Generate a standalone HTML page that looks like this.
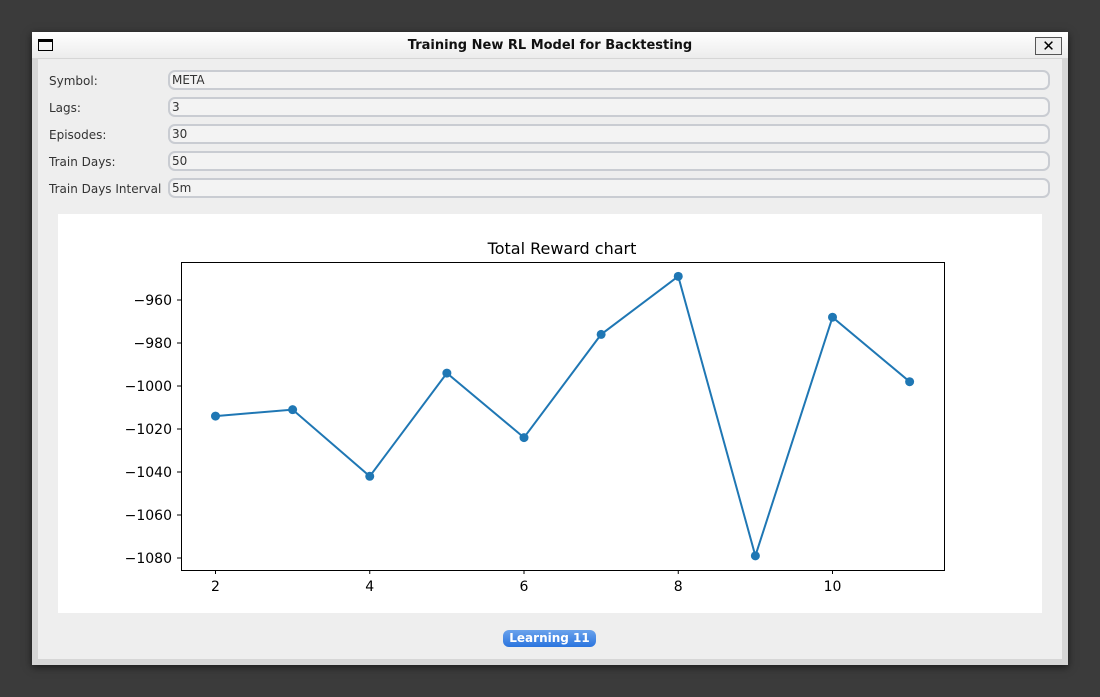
<!DOCTYPE html>
<html><head><meta charset="utf-8"><style>
body{margin:0;width:1100px;height:697px;background:#3b3b3b;font-family:"DejaVu Sans","Liberation Sans",sans-serif;overflow:hidden;position:relative}
.win{position:absolute;left:32px;top:32px;width:1036px;height:633px;background:#d6d6d6;box-shadow:0 2px 8px rgba(0,0,0,.6)}
.tb{position:absolute;left:0;top:0;width:1036px;height:26px;background:linear-gradient(#fff,#ececec)}
.tt{position:absolute;left:0;right:0;top:6px;text-align:center;font-weight:bold;font-size:13px;color:#111}
.body{position:absolute;left:6px;top:27px;width:1024px;height:600px;background:#eeeeee}
.lbl{position:absolute;left:11px;font-size:12px;color:#333}
.fld{position:absolute;left:130px;width:876px;height:16px;border:2px solid #c9ccd2;border-radius:7px;background:#f3f3f3;font-size:12px;color:#333;line-height:16px;padding-left:2px}
.btn{position:absolute;left:503px;top:630px;width:93px;height:17px;border-radius:6px;background:linear-gradient(#6aa2ec,#2a74de);color:#fff;font-weight:bold;font-size:12px;text-align:center;line-height:17px}
</style></head><body>
<div class="win">
 <div class="tb">
  <div style="position:absolute;left:6px;top:7px;width:15px;height:12px;border:1px solid #000;border-top-width:3px;box-sizing:border-box"></div>
  <div class="tt">Training New RL Model for Backtesting</div>
  <div style="position:absolute;left:1003px;top:5px;width:27px;height:18px;border:1px solid #555;background:#eee;box-sizing:border-box;text-align:center;font-size:15px;line-height:16px;font-weight:900">✕</div>
 </div>
 <div class="body">
  <div class="lbl" style="top:15px">Symbol:</div>
  <div class="fld" style="top:11px">META</div>
  <div class="lbl" style="top:42px">Lags:</div>
  <div class="fld" style="top:38px">3</div>
  <div class="lbl" style="top:69px">Episodes:</div>
  <div class="fld" style="top:65px">30</div>
  <div class="lbl" style="top:96px">Train Days:</div>
  <div class="fld" style="top:92px">50</div>
  <div class="lbl" style="top:123px">Train Days Interval</div>
  <div class="fld" style="top:119px">5m</div>
 </div>
</div>
<svg id="chart" style="position:absolute;left:0;top:0" width="1100" height="697">
 <rect x="58" y="214" width="984" height="399" fill="#fff"/>
 <text x="562" y="254" text-anchor="middle" font-size="16" font-family="DejaVu Sans,sans-serif" fill="#000">Total Reward chart</text>
 <rect x="181.5" y="262.5" width="763" height="308" fill="none" stroke="#000" stroke-width="1"/>
 <g id="g"></g>
</svg>
<div class="btn">Learning 11</div>
<script>
const episodes=[2,3,4,5,6,7,8,9,10,11];
const rewards=[-1014,-1011,-1042,-994,-1024,-976,-949,-1079,-968,-998];
const xTicks=[2,4,6,8,10];
const yTicks=[-960,-980,-1000,-1020,-1040,-1060,-1080];
const xs=v=>215.5+(v-2)*77.125;
const ys=v=>300+(-960-v)*2.15;
const g=document.getElementById('g');const NS='http://www.w3.org/2000/svg';
function mk(t,a){const e=document.createElementNS(NS,t);for(const k in a)e.setAttribute(k,a[k]);g.appendChild(e);return e;}
xTicks.forEach(v=>{const x=xs(v);
 const l=mk('line',{x1:x,x2:x,y1:570,y2:574,stroke:'#000'});
 
 
 const t=mk('text',{x:x,y:591,'text-anchor':'middle','font-size':14,'font-family':'DejaVu Sans,sans-serif'});t.textContent=v;
 
 });
yTicks.forEach(v=>{const y=ys(v);
 const l=mk('line',{x1:177,x2:181,y1:y,y2:y,stroke:'#000'});
 
 
 const t=mk('text',{x:172,y:y+5,'text-anchor':'end','font-size':14,'font-family':'DejaVu Sans,sans-serif'});t.textContent='\u2212'+Math.abs(v);
 
 });
const p=mk('polyline',{points:episodes.map((e,i)=>xs(e)+','+ys(rewards[i])).join(' '),fill:'none',stroke:'#1f77b4','stroke-width':2});


episodes.forEach((e,i)=>{const c=mk('circle',{cx:xs(e),cy:ys(rewards[i]),r:4.5,fill:'#1f77b4'});
 
 });
</script>
</body></html>
